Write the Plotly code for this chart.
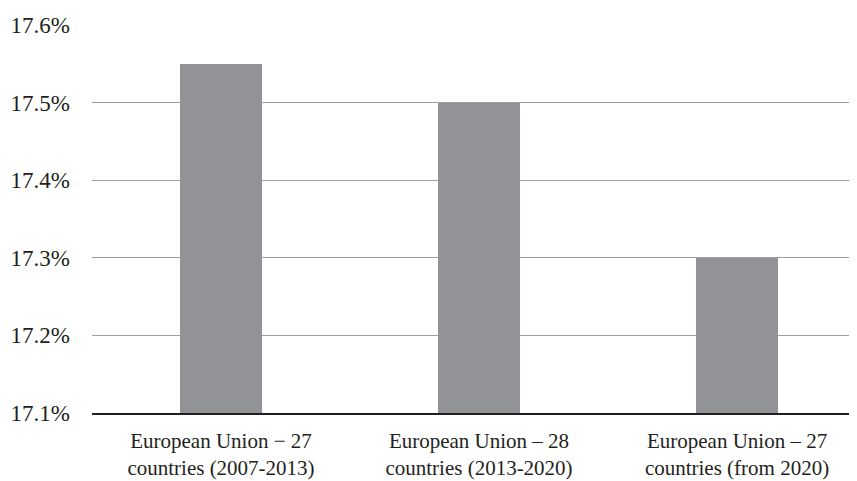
import plotly.graph_objects as go

categories = ["European Union − 27<br>countries (2007-2013)",
              "European Union – 28<br>countries (2013-2020)",
              "European Union – 27<br>countries (from 2020)"]
values = [17.55, 17.50, 17.30]
tick_vals = [17.1, 17.2, 17.3, 17.4, 17.5, 17.6]
tick_text = ["17.1%", "17.2%", "17.3%", "17.4%", "17.5%", "17.6%"]

fig = go.Figure(go.Bar(
    x=[0, 1, 2], y=[v - 17.1 for v in values], base=17.1,
    marker=dict(color="#929396", line=dict(width=0)),
    width=0.318,
))

fig.update_layout(
    width=857, height=481,
    margin=dict(l=84, r=8, t=17, b=76),
    paper_bgcolor="white", plot_bgcolor="white",
    font=dict(family="Liberation Serif, Times New Roman, serif", size=23, color="#231f20"),
    showlegend=False,
    bargap=0,
    xaxis=dict(
        range=[-0.5, 2.465],
        tickmode="array", tickvals=[0, 1, 2], ticktext=categories,
        tickfont=dict(size=21),
        showgrid=False, zeroline=False, automargin=False,
        showline=True, linecolor="#231f20", linewidth=1.5,
        ticks="", ticklabelstandoff=8,
    ),
    yaxis=dict(
        range=[17.1, 17.6],
        tickmode="array", tickvals=tick_vals, ticktext=tick_text,
        showgrid=True, gridcolor="#9d9fa2", gridwidth=1.2,
        zeroline=False, showline=False, automargin=False,
        ticks="", ticklabelstandoff=21,
    ),
)

fig.write_html("out.html")
